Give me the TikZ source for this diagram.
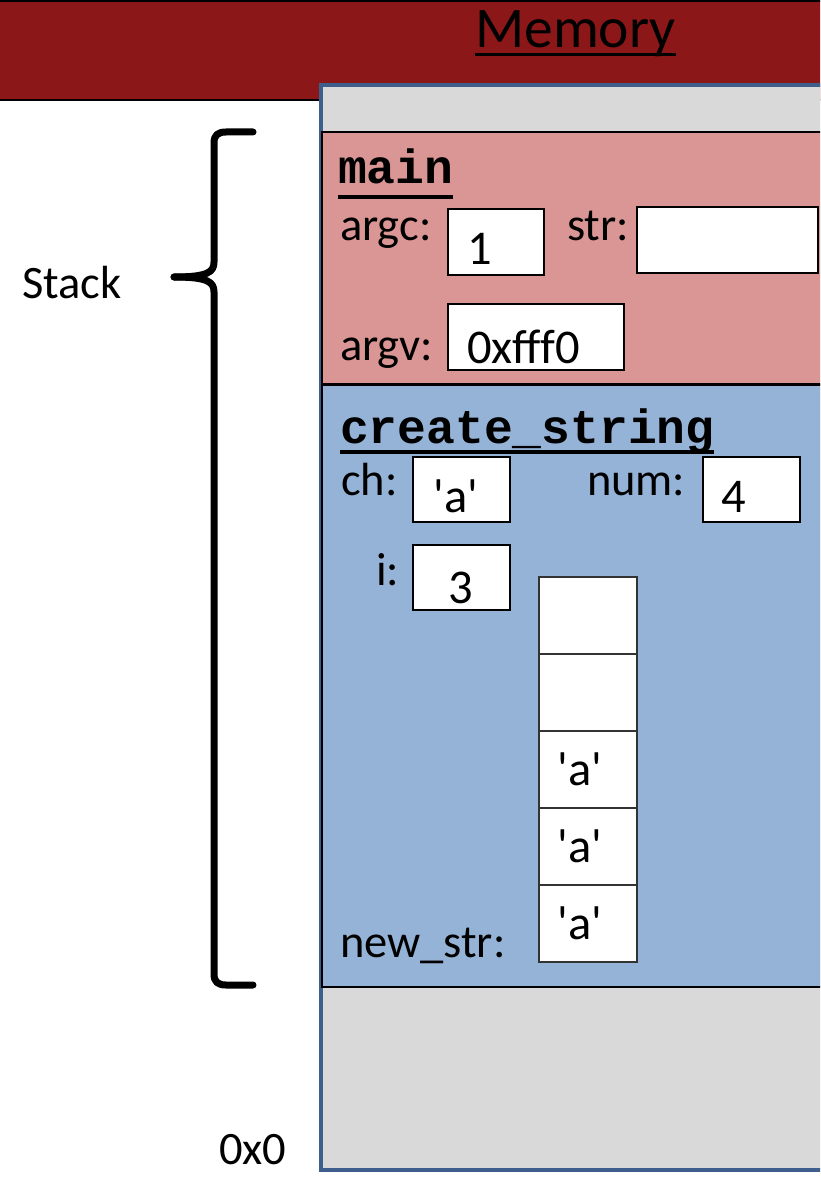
\documentclass[tikz,border=0pt]{standalone}
\usepackage{fontspec}
\setmainfont{Carlito}
\newfontfamily\mycodefont{Liberation Mono}
\definecolor{hdrred}{RGB}{140,23,24}
\definecolor{memgray}{RGB}{217,217,217}
\definecolor{memborder}{RGB}{62,95,140}
\definecolor{mainpink}{RGB}{217,150,148}
\definecolor{csblue}{RGB}{149,179,215}
\newcommand\mylblfont{\fontsize{46.5}{50}\selectfont}
\newcommand\myvalfont{\fontsize{48.5}{52}\selectfont}
\newcommand\myfnfont{\mycodefont\bfseries\fontsize{48}{50}\selectfont}
\newcommand\myq{\textquotesingle}
\begin{document}
\begin{tikzpicture}[x=1pt,y=-1pt,
  lbl/.style={inner sep=0pt, outer sep=0pt, anchor=base west, font=\mylblfont},
  val/.style={inner sep=0pt, outer sep=0pt, anchor=base, font=\myvalfont},
  fn/.style={inner sep=0pt, outer sep=0pt, anchor=base west, font=\myfnfont},
  valbox/.style={draw=black, line width=1.5pt, fill=white, inner sep=0pt, outer sep=0pt, anchor=north west},
  cellbox/.style={draw=black!80, line width=1.5pt, fill=white, inner sep=0pt, outer sep=0pt, anchor=north west, minimum width=98pt, minimum height=77pt},
  framebox/.style={draw=black, line width=2pt, inner sep=0pt, outer sep=0pt, anchor=north west},
  ul/.style={line width=4pt}
]
\clip (0,0) rectangle (820,1177);
\fill[white] (0,0) rectangle (820,1177);
% header band
\node[fill=hdrred, draw=black, line width=2pt, inner sep=0pt, outer sep=0pt, anchor=north west,
      minimum width=840pt, minimum height=99pt] (header) at (-10,1) {};
\node[inner sep=0pt, anchor=base west, font=\fontsize{57.5}{60}\selectfont] (memtitle) at (475,48) {Memory};
\draw[line width=3pt] (memtitle.base west |- 0,55) -- (memtitle.base east |- 0,55);
% memory area
\node[fill=memgray, draw=memborder, line width=4pt, inner sep=0pt, outer sep=0pt, anchor=north west,
      minimum width=540pt, minimum height=1084.5pt] (mem) at (320.5,85) {};
% frames
\node[framebox, fill=mainpink, minimum width=520pt, minimum height=252pt] (mainframe) at (322,132) {};
\node[framebox, fill=csblue, minimum width=520pt, minimum height=602pt] (csframe) at (322,385) {};
% main frame
\node[fn] (mainlbl) at (338,183) {main};
\draw[ul] (mainlbl.base west |- 0,197) -- (mainlbl.base east |- 0,197);
\node[lbl] (argclbl) at (340,240) {argc:};
\node[valbox, minimum width=96pt, minimum height=66pt] (argcbox) at (448,209) {};
\node[val] (argcval) at (480,264) {1};
\node[lbl] (strlbl) at (567,240) {str:};
\node[valbox, minimum width=181pt, minimum height=66pt] (strbox) at (637,207) {};
\node[lbl] (argvlbl) at (340,360) {argv:};
\node[valbox, minimum width=176pt, minimum height=66pt] (argvbox) at (448,304) {};
\node[val, anchor=base west] (argvval) at (467,363) {0xfff0};
% create_string frame
\node[fn] (cslbl) at (340,443) {create\_string};
\draw[ul] (cslbl.base west |- 0,452) -- (cslbl.base east |- 0,452);
\node[lbl] (chlbl) at (341,495) {ch:};
\node[valbox, minimum width=97pt, minimum height=65pt] (chbox) at (413,457) {};
\node[val] (chval) at (456,512) {\myq a\myq};
\node[lbl] (numlbl) at (587,495) {num:};
\node[valbox, minimum width=97pt, minimum height=65pt] (numbox) at (703,457) {};
\node[val] (numval) at (734,512) {4};
\node[lbl] (ilbl) at (376,585) {i:};
\node[valbox, minimum width=97pt, minimum height=65pt] (ibox) at (413,545) {};
\node[val] (ival) at (461,603) {3};
\node[cellbox] (c0) at (539,577) {};
\node[cellbox] (c1) at (539,654) {};
\node[cellbox] (c2) at (539,731) {};
\node[cellbox] (c3) at (539,808) {};
\node[cellbox] (c4) at (539,885) {};
\node[val] (c2val) at (580,785) {\myq a\myq};
\node[val] (c3val) at (580,862) {\myq a\myq};
\node[val] (c4val) at (580,939) {\myq a\myq};
\node[lbl] (newstrlbl) at (340,957) {new\_str:};
% stack brace
\draw[line width=7pt, line cap=round, line join=round]
  (253,132) -- (226,132) .. controls (218,132) and (214,135) .. (214,143)
  -- (214,262) .. controls (214,272) and (208,277) .. (174,277);
\draw[line width=7pt, line cap=round, line join=round]
  (174,277) .. controls (208,277) and (214,282) .. (214,292)
  -- (214,974) .. controls (214,982) and (218,985) .. (226,985) -- (253,985);
\node[lbl] (stacklbl) at (22,298) {Stack};
\node[lbl] (zerolbl) at (219,1164) {0x0};
\end{tikzpicture}
\end{document}
